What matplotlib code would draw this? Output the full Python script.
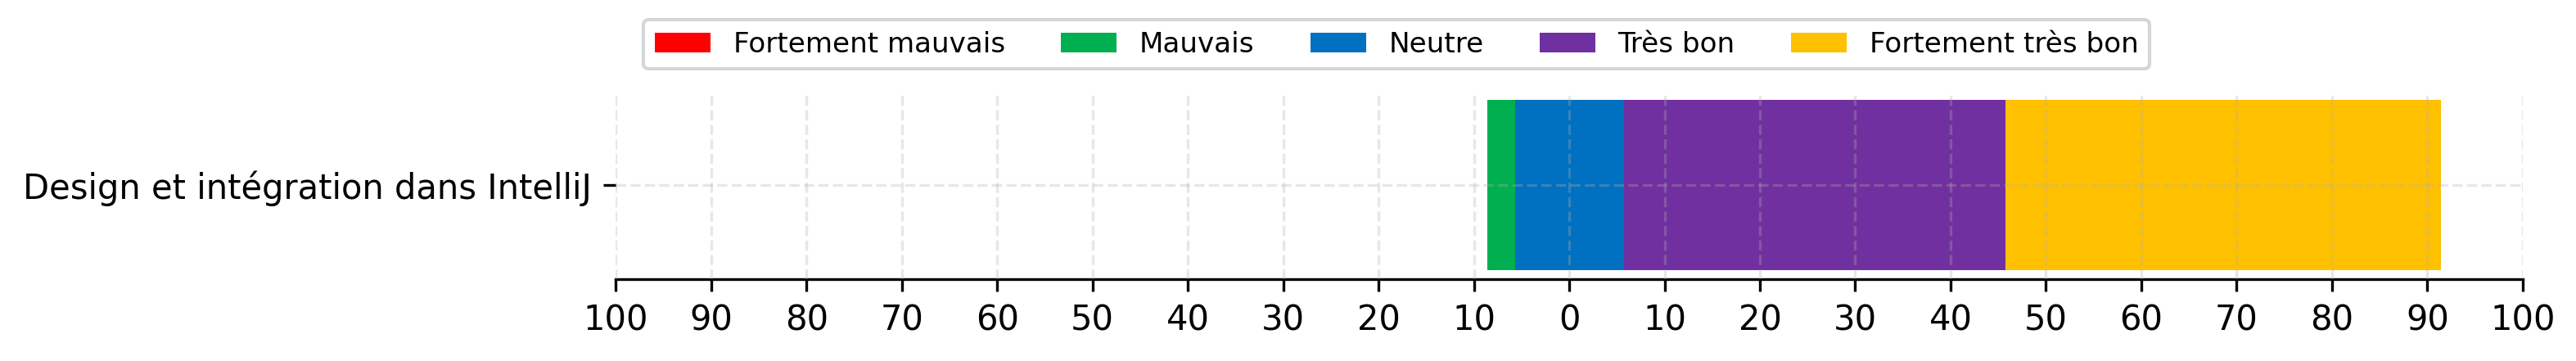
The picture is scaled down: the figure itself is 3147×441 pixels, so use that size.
import matplotlib.pyplot as plt
import numpy as np

question = ["Design et intégration dans IntelliJ"]
labels = ["Fortement mauvais", "Mauvais", "Neutre", "Très bon", "Fortement très bon"]
colors = ["#ff0000", "#00b050", "#0070c0", "#7030a0", "#ffc000"]
counts = [0, 1, 4, 14, 16]

total = sum(counts)
pct = np.array(counts) / total * 100

fig = plt.figure(figsize=(10.493, 1.47), dpi=300)
ax = fig.add_axes([0.239, 0.227, 0.74, 0.52])

left = -(pct[0] + pct[1] + pct[2] / 2)
for lab, c, w in zip(labels, colors, pct):
    ax.barh(question, w, left=left, color=c, label=lab, height=1.0, zorder=2)
    left += w

ax.set_xlim(-100, 100)
ax.set_ylim(-0.55, 0.55)
ticks = np.arange(-100, 101, 10)
ax.set_xticks(ticks)
ax.set_xticklabels([str(abs(t)) for t in ticks], fontsize=10)
ax.tick_params(axis="y", labelsize=10)
ax.grid(True, linestyle="--", alpha=0.3, zorder=3)
ax.set_axisbelow(False)
for s in ["top", "right", "left"]:
    ax.spines[s].set_visible(False)

fig.legend(loc="lower center", bbox_to_anchor=(0.542, 0.77), ncol=5, fontsize=8.2)
fig.savefig("out.png", dpi=300)
